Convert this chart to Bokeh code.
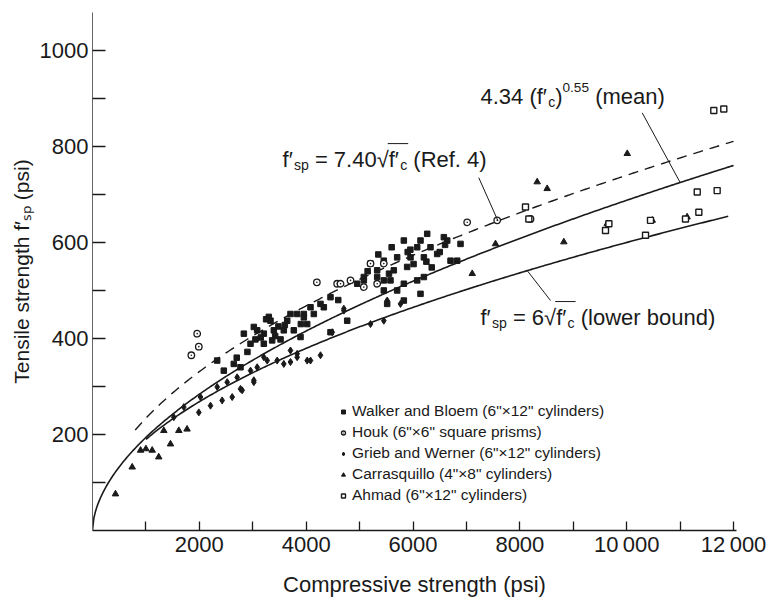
import numpy as np
from bokeh.plotting import figure
from bokeh.models import FixedTicker, Label, Legend, LegendItem, Range1d
from bokeh.embed import file_html
from bokeh.resources import INLINE

# ---- measured data: compressive strength f'c (psi) vs split-cylinder strength f'sp (psi)
walker_fc = [2833, 3083, 3332, 3394, 3363, 3207, 2958, 2645, 2770, 2458, 2334, 3645, 3768,
             3894, 3706, 3956, 4081, 4330, 3020, 3207, 3581, 4019, 4455, 4768, 3831, 4143,
             3956, 4268, 4455, 5079, 5329, 5578, 5828, 6078, 5703, 5453, 6140, 5828, 5516,
             6265, 6577, 6640, 6140, 5828, 6078, 6327, 5953, 6203, 6452, 6702, 6827, 6889,
             5703, 5453, 5204, 5329, 5640, 5890, 6203, 4955, 5079, 5453, 3150, 3480, 3520,
             2900, 3300, 3900, 5950, 6010, 6350, 5550, 5150, 6500, 4600, 3050, 3420, 3600,
             3250, 2700, 5600, 5900, 6250, 6600, 5350]
walker_fsp = [410, 417, 437, 417, 396, 389, 389, 347, 340, 333, 354, 437, 417,
              403, 451, 451, 465, 465, 424, 410, 417, 430, 413, 437, 451, 451,
              444, 472, 486, 528, 528, 521, 514, 521, 500, 500, 493, 479, 472,
              618, 611, 604, 604, 604, 590, 590, 569, 569, 576, 562, 562, 597,
              569, 562, 556, 542, 542, 549, 528, 514, 521, 521, 402, 425, 398,
              372, 445, 430, 585, 555, 548, 535, 540, 580, 480, 398, 405, 428,
              440, 360, 590, 580, 560, 595, 575]

houk_fc = [1960, 1990, 1850, 4200, 4580, 4830, 5079, 5204, 5453, 5329, 4643, 7014, 7576, 8199]
houk_fsp = [410, 383, 365, 517, 514, 521, 507, 556, 556, 514, 514, 642, 646, 649]

grieb_fc = [1990, 2209, 2427, 2615, 2802, 3020, 3207, 3457, 3706, 3831, 4019, 3581, 2958,
            2708, 2521, 2334, 2022, 1709, 1522, 4268, 4487, 4705, 3831, 4081, 3706, 3270,
            3083, 2770, 3020, 5204, 5453, 4705, 5765, 5516]
grieb_fsp = [246, 260, 271, 278, 292, 309, 361, 354, 351, 361, 354, 347, 333,
             319, 309, 299, 278, 257, 236, 365, 413, 462, 368, 354, 375, 354,
             340, 295, 313, 430, 437, 458, 472, 479]

carr_fc = [430, 743, 900, 1000, 1117, 1240, 1335, 1460, 1616, 1770, 7108, 7544, 8823,
           9635, 10478, 11131, 10010, 8324, 8511]
carr_fsp = [76, 132, 167, 170, 167, 153, 208, 180, 208, 211, 535, 597, 601,
            639, 646, 653, 785, 726, 712]

ahmad_fc = [8105, 8168, 9603, 10352, 11350, 11320, 11693, 11630, 11817, 9666, 10445, 11100]
ahmad_fsp = [674, 649, 625, 615, 663, 705, 708, 875, 878, 639, 646, 649]

x_ticks = [2000, 4000, 6000, 8000, 10000, 12000]
x_minor = [1000, 3000, 5000, 7000, 9000, 11000]
y_ticks = [200, 400, 600, 800, 1000]
y_minor = [100, 300, 500, 700, 900]

FONT = "Liberation Sans"
INK = "#1a1a1a"

X_END, Y_END = 12055, 1079
LEFT, RIGHT, TOP, BOTTOM = 92, 35, 12, 71
W, H = 771, 601

p = figure(width=W, height=H, x_range=Range1d(0, X_END), y_range=Range1d(0, Y_END),
           output_backend="svg", toolbar_location=None,
           min_border_left=LEFT, min_border_right=RIGHT,
           min_border_top=TOP, min_border_bottom=BOTTOM)
p.outline_line_color = None
p.grid.visible = False
p.background_fill_color = "white"

# px per data unit (used to lay out formula text runs)
px_x = (W - LEFT - RIGHT) / X_END
px_y = (H - TOP - BOTTOM) / Y_END

# ---- axes
p.xaxis.ticker = FixedTicker(ticks=x_ticks, minor_ticks=x_minor)
p.yaxis.ticker = FixedTicker(ticks=y_ticks, minor_ticks=y_minor)
p.xaxis.major_label_overrides = {10000: "10\u2009000", 12000: "12\u2009000"}
for ax in (p.xaxis[0], p.yaxis[0]):
    ax.major_tick_out = 0
    ax.minor_tick_out = 0
    ax.major_label_text_font = FONT
    ax.major_label_text_font_size = "22px"
    ax.major_label_text_color = INK
    ax.axis_label_text_font = FONT
    ax.axis_label_text_font_style = "normal"
    ax.axis_label_text_color = INK
    ax.major_tick_line_color = INK
    ax.minor_tick_line_color = INK
    ax.major_label_standoff = 4

p.xaxis.major_label_standoff = 1
p.xaxis.major_tick_in = 9
p.xaxis.minor_tick_in = 9
p.xaxis.axis_line_width = 1.6
p.xaxis.axis_line_color = INK
p.xaxis.major_tick_line_width = 1.3
p.xaxis.minor_tick_line_width = 1.3
p.xaxis.axis_label = "Compressive strength (psi)"
p.xaxis.axis_label_text_font_size = "22px"
p.xaxis.axis_label_standoff = 12

p.yaxis.major_tick_in = 13
p.yaxis.minor_tick_in = 13
p.yaxis.axis_line_width = 1
p.yaxis.axis_line_color = "#666666"
p.yaxis.major_tick_line_width = 1.6
p.yaxis.minor_tick_line_width = 1.6
p.yaxis.axis_label = "Tensile strength f\u2032\u209b\u209a (psi)"
p.yaxis.axis_label_text_font_size = "21px"
p.yaxis.axis_label_standoff = 4

p.add_layout(Label(x=0, y=0, x_offset=-14, y_offset=-20, text="0", text_font=FONT,
                   text_font_size="22px", text_color=INK, text_align="center",
                   text_baseline="middle"))

# ---- strength relations
fc_mean = np.linspace(0, 12000, 481)
p.line(fc_mean, 4.34 * fc_mean ** 0.55, line_color=INK, line_width=1.6)

fc_low = np.linspace(1000, 11900, 300)
p.line(fc_low, 6.0 * np.sqrt(fc_low), line_color=INK, line_width=1.6)

fc_ref = np.linspace(800, 12000, 300)
p.line(fc_ref, 7.40 * np.sqrt(fc_ref), line_color=INK, line_width=1.4, line_dash="10 7")

# ---- test series
r_walker = p.scatter(walker_fc, walker_fsp, marker="square", size=5.5,
                     fill_color=INK, line_color=INK)
r_houk = p.scatter(houk_fc, houk_fsp, marker="circle_dot", size=6.5,
                   fill_color="white", line_color=INK, line_width=1.3)
r_grieb = p.scatter(grieb_fc, grieb_fsp, marker="diamond", size=7,
                    fill_color=INK, line_color=INK)
r_carr = p.scatter(carr_fc, carr_fsp, marker="triangle", size=6.5,
                   fill_color=INK, line_color=INK)
r_ahmad = p.scatter(ahmad_fc, ahmad_fsp, marker="square", size=6,
                    fill_color="white", line_color=INK, line_width=1.4)

legend = Legend(items=[
    LegendItem(label='Walker and Bloem (6"\u00d712" cylinders)', renderers=[r_walker]),
    LegendItem(label='Houk (6"\u00d76" square prisms)', renderers=[r_houk]),
    LegendItem(label='Grieb and Werner (6"\u00d712" cylinders)', renderers=[r_grieb]),
    LegendItem(label='Carrasquillo (4"\u00d78" cylinders)', renderers=[r_carr]),
    LegendItem(label='Ahmad (6"\u00d712" cylinders)', renderers=[r_ahmad]),
], location=(246, 26), border_line_color=None, background_fill_alpha=0,
    label_text_font=FONT, label_text_font_size="15.5px", label_text_color=INK,
    glyph_width=10, glyph_height=15, label_height=15, label_standoff=4,
    spacing=3, padding=0, margin=0)
p.add_layout(legend)

# ---- formula labels, built from text runs (Helvetica-style advance widths)
ADV = {" ": .278, "(": .333, ")": .333, ".": .278, "=": .584, "\u2032": .24, "\u221a": .549,
       "0": .556, "1": .556, "2": .556, "3": .556, "4": .556, "5": .556, "6": .556,
       "7": .556, "8": .556, "9": .556, "R": .722, "a": .556, "b": .556, "c": .5,
       "d": .556, "e": .556, "f": .278, "l": .222, "m": .833, "n": .556, "o": .556,
       "p": .556, "r": .333, "s": .5, "u": .556, "w": .722}


def runs_label(x, y, runs, size):
    """Place (text, kind) runs on one baseline; returns px offsets of run ends."""
    off = 0.0
    ends = []
    for text, kind in runs:
        fs, dy = size, 0.0
        if kind == "sub":
            fs, dy = size * 0.64, -0.24 * size
        elif kind == "sup":
            fs, dy = size * 0.62, 0.42 * size
        # leading blanks are collapsed in SVG text, so advance past them here
        body = text.lstrip(" ")
        off += (len(text) - len(body)) * ADV[" "] * fs
        p.add_layout(Label(x=x, y=y, x_offset=off, y_offset=dy, text=body,
                           text_font=FONT, text_font_size=f"{fs:.1f}px", text_color=INK,
                           text_baseline="alphabetic", text_align="left"))
        off += sum(ADV.get(ch, .556) for ch in body) * fs
        ends.append(off)
    return ends


def overline(x, y, x0_px, x1_px, size):
    yy = y + 0.74 * size / px_y
    p.line([x + x0_px / px_x, x + x1_px / px_x], [yy, yy], line_color=INK, line_width=1)


LS = 22
mean_x, mean_y = 7263, 903
runs_label(mean_x, mean_y, [("4.34 (f\u2032", "n"), ("c", "sub"), (")", "n"),
                            ("0.55", "sup"), (" (mean)", "n")], LS)

ref_x, ref_y = 3557, 772
e = runs_label(ref_x, ref_y, [("f\u2032", "n"), ("sp", "sub"), (" = 7.40", "n"),
                              ("\u221a", "n"), ("f\u2032", "n"), ("c", "sub"),
                              (" (Ref. 4)", "n")], LS)
overline(ref_x, ref_y, e[3] - 1, e[5] + 1, LS)

low_x, low_y = 7263, 443
e = runs_label(low_x, low_y, [("f\u2032", "n"), ("sp", "sub"), (" = 6", "n"),
                              ("\u221a", "n"), ("f\u2032", "n"), ("c", "sub"),
                              (" (lower bound)", "n")], LS)
overline(low_x, low_y, e[3] - 1, e[5] + 1, LS)

# leader lines from labels to their curves
lead_x0 = [10290, 7230, 8140]
lead_y0 = [870, 735, 541]
lead_x1 = [11000, 7590, 8574]
lead_y1 = [725, 645, 479]
p.segment(lead_x0, lead_y0, lead_x1, lead_y1, line_color=INK, line_width=1)

open("out.html", "w").write(file_html(p, INLINE))
